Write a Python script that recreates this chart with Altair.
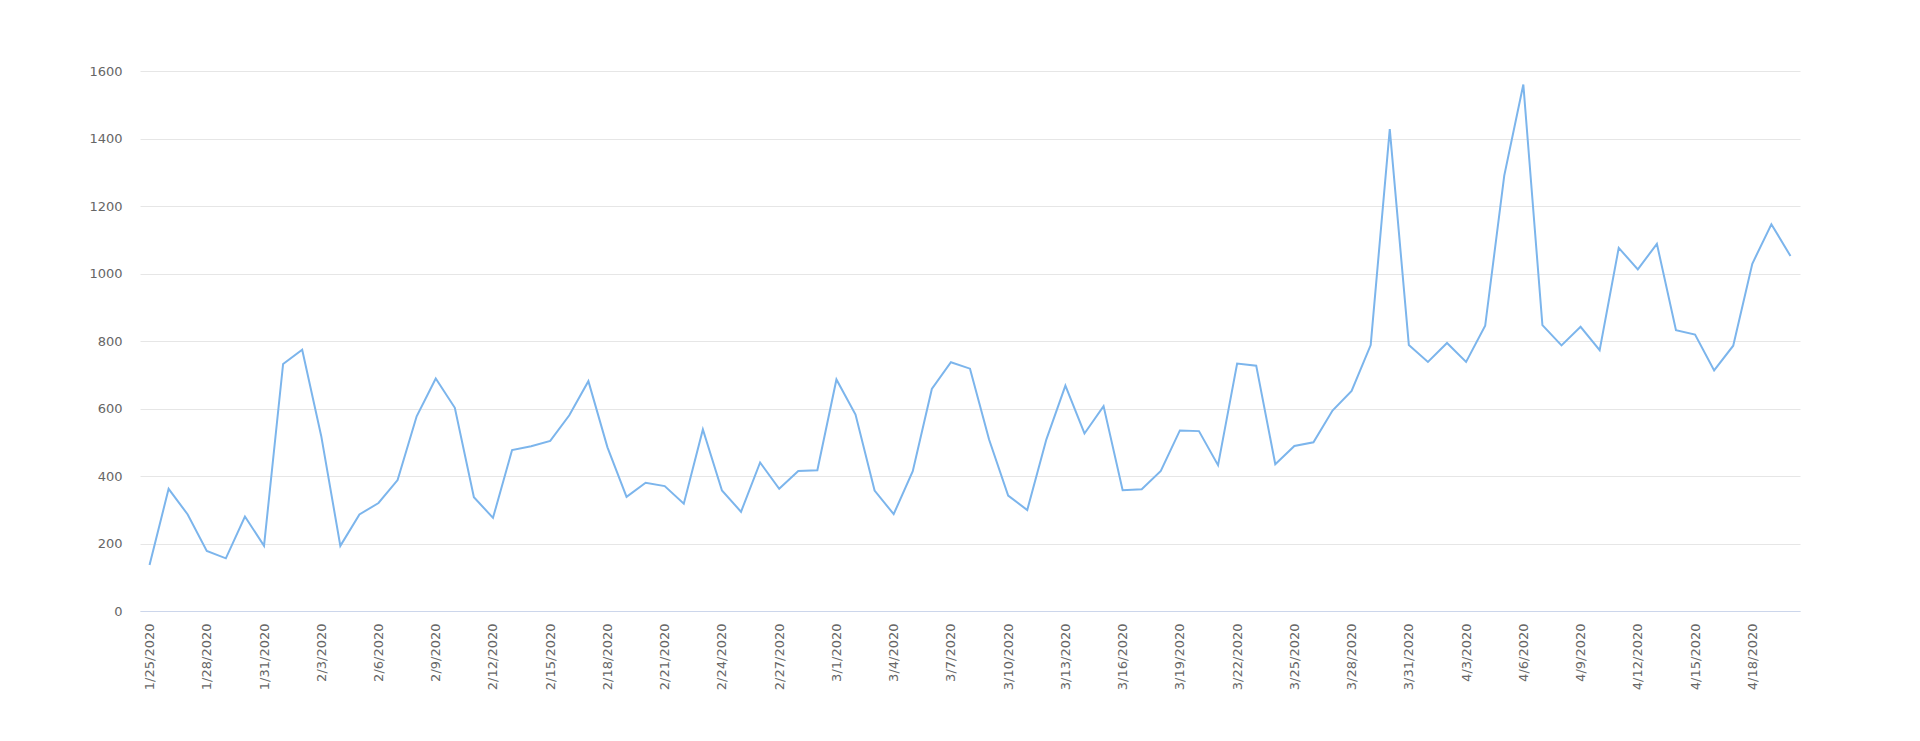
import altair as alt
import pandas as pd

months = [1] * 7 + [2] * 29 + [3] * 31 + [4] * 20
days = list(range(25, 32)) + list(range(1, 30)) + list(range(1, 32)) + list(range(1, 21))
dates = [f"{m}/{d}/2020" for m, d in zip(months, days)]

values = [
    136, 362, 286, 178, 156, 280, 193,
    732, 774, 518, 193, 286, 320, 388, 577, 689, 602, 337, 276, 477, 488, 504,
    580, 681, 485, 338, 380, 370, 318, 538, 357, 294, 440, 362, 415, 417,
    686, 582, 357, 287, 414, 658, 737, 718, 508, 342, 299, 508, 668, 526, 607,
    358, 361, 415, 535, 533, 432, 733, 727, 435, 489, 500, 594, 652, 788, 1428,
    788, 738, 794, 738, 845, 1290, 1560, 847, 787, 842, 773, 1076, 1012, 1088,
    832, 819, 713, 786, 1029, 1146, 1052,
]

tick_dates = dates[::3]
y_ticks = [0, 200, 400, 600, 800, 1000, 1200, 1400, 1600]

df = pd.DataFrame({"date": dates, "value": values})

FONT = "DejaVu Sans"

chart = (
    alt.Chart(df)
    .mark_line(color="#7cb5ec", strokeWidth=2)
    .encode(
        x=alt.X(
            "date:O",
            sort=dates,
            title=None,
            axis=alt.Axis(
                values=tick_dates,
                labelAngle=270,
                labelAlign="right",
                labelBaseline="middle",
                labelPadding=12,
                ticks=False,
                grid=False,
                domainColor="#ccd6eb",
                domainWidth=1,
                labelColor="#666666",
                labelFont=FONT,
                labelFontSize=13,
            ),
        ),
        y=alt.Y(
            "value:Q",
            title=None,
            scale=alt.Scale(domain=[0, 1600], nice=False),
            axis=alt.Axis(
                values=y_ticks,
                format="d",
                ticks=False,
                domain=False,
                grid=True,
                gridColor="#e6e6e6",
                gridWidth=1,
                labelColor="#666666",
                labelFont=FONT,
                labelFontSize=13,
                labelPadding=18,
            ),
        ),
    )
    .properties(
        width=1660,
        height=540,
        autosize="none",
        padding={"left": 132, "top": 63, "right": 100, "bottom": 100},
    )
    .configure_view(stroke=None)
    .configure_scale(pointPadding=0.5)
)

chart.save("out.html", embed_options={"renderer": "svg", "actions": False})
